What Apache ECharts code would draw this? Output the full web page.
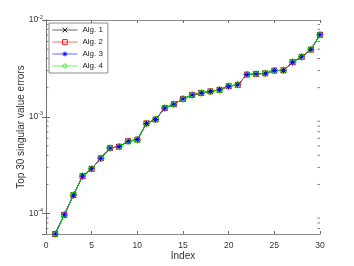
<!DOCTYPE html>
<html>
<head>
<meta charset="utf-8">
<script src="https://cdn.jsdelivr.net/npm/echarts@6/dist/echarts.min.js"></script>
<style>
  html, body { margin: 0; padding: 0; background: #fff; }
  #chart { width: 354px; height: 266px; }
</style>
</head>
<body>
<div id="chart"></div>
<script>
// x positions
var index = [1, 2, 3, 4, 5, 6, 7, 8, 9, 10, 11, 12, 13, 14, 15, 16, 17, 18, 19, 20,
  21, 22, 23, 24, 25, 26, 27, 28, 29, 30]
// the four algorithms give the same errors, the curves lie on top of each other
var errors = [6.15e-5, 9.7e-5, 1.55e-4, 2.44e-4, 2.90e-4, 3.73e-4, 4.75e-4, 4.91e-4, 5.60e-4, 5.80e-4,
  8.55e-4, 9.38e-4, 1.23e-3, 1.35e-3, 1.53e-3, 1.68e-3, 1.76e-3, 1.83e-3, 1.90e-3, 2.07e-3,
  2.14e-3, 2.73e-3, 2.77e-3, 2.81e-3, 3.00e-3, 3.02e-3, 3.67e-3, 4.16e-3, 4.94e-3, 7.03e-3]
var algNames = ['Alg. 1', 'Alg. 2', 'Alg. 3', 'Alg. 4']
var algColors = ['#000000', '#ff0000', '#0000ff', '#00ee00']
var algSymbols = [
  'path://M0,0L10,10M0,10L10,0',
  'path://M0,0L10,0L10,10L0,10Z',
  'path://M5,0L5,10M0,5L10,5M1.5,1.5L8.5,8.5M1.5,8.5L8.5,1.5',
  'path://M5,0L10,5L5,10L0,5Z'
]
var algSizes = [5, 5, 6, 7]
var xMin = 0
var xMax = 30
var yMin = 6.15e-5
var yMax = 1e-2
var minorTicks = [7e-5, 8e-5, 9e-5, 2e-4, 3e-4, 4e-4, 5e-4, 6e-4, 7e-4, 8e-4, 9e-4,
  2e-3, 3e-3, 4e-3, 5e-3, 6e-3, 7e-3, 8e-3, 9e-3]

var axisGray = '#6e6e6e'
var fontName = 'Liberation Sans'

function powLabel (v) {
  var l = Math.log10(v)
  var e = Math.round(l)
  if (Math.abs(l - e) > 1e-6) return ''
  return '10{sup|' + e + '}'
}

var series = algNames.map(function (name, i) {
  return {
    name: name,
    type: 'line',
    data: index.map(function (x, k) { return [x, errors[k]] }),
    symbol: algSymbols[i],
    symbolSize: algSizes[i],
    showSymbol: true,
    itemStyle: { color: 'transparent', borderColor: algColors[i], borderWidth: 1 },
    lineStyle: { color: algColors[i], width: 0.9 },
    emphasis: { disabled: true },
    animation: false
  }
})

// minor ticks of the log axis (2..9 in every decade), on both sides of the box
series.push({
  type: 'custom',
  name: 'minor',
  silent: true,
  clip: false,
  z: 1,
  data: minorTicks.map(function (v) { return [xMin, v] }),
  renderItem: function (params, api) {
    var v = api.value(1)
    var pl = api.coord([xMin, v])
    var pr = api.coord([xMax, v])
    return {
      type: 'group',
      children: [
        { type: 'line', shape: { x1: pl[0], y1: pl[1], x2: pl[0] + 2.5, y2: pl[1] }, style: { stroke: axisGray, lineWidth: 0.9 } },
        { type: 'line', shape: { x1: pr[0], y1: pr[1], x2: pr[0] - 2.5, y2: pr[1] }, style: { stroke: axisGray, lineWidth: 0.9 } }
      ]
    }
  }
})

var legendData = algNames.map(function (name, i) {
  return {
    name: name,
    itemStyle: { color: 'transparent', borderColor: algColors[i], borderWidth: 0.9 },
    lineStyle: { color: algColors[i], width: 0.8, opacity: 0.75 }
  }
})

var chart = echarts.init(document.getElementById('chart'))
var option = {
  animation: false,
  textStyle: { fontFamily: fontName },
  grid: { left: 46, right: 34, top: 20, bottom: 29 },
  legend: {
    data: legendData,
    orient: 'vertical',
    left: 49,
    top: 23,
    itemWidth: 25,
    itemHeight: 6,
    itemGap: 4,
    padding: [3, 5, 3, 3],
    borderColor: axisGray,
    borderWidth: 0.8,
    backgroundColor: '#fff',
    textStyle: { fontSize: 8, color: '#222', fontFamily: fontName }
  },
  xAxis: [
    {
      type: 'value',
      min: xMin,
      max: xMax,
      interval: 5,
      name: 'Index',
      nameLocation: 'middle',
      nameGap: 17,
      nameMoveOverlap: false,
      nameTextStyle: { fontSize: 10, color: '#333' },
      axisLine: { lineStyle: { color: axisGray, width: 0.8 } },
      axisTick: { inside: true, length: 3, lineStyle: { color: axisGray } },
      axisLabel: { fontSize: 8.5, color: '#333', margin: 7 },
      splitLine: { show: false }
    },
    {
      type: 'value',
      position: 'top',
      min: xMin,
      max: xMax,
      interval: 5,
      axisLine: { lineStyle: { color: axisGray, width: 0.8 } },
      axisTick: { inside: true, length: 3, lineStyle: { color: axisGray } },
      axisLabel: { show: false },
      splitLine: { show: false }
    }
  ],
  yAxis: [
    {
      type: 'log',
      logBase: 10,
      min: yMin,
      max: yMax,
      name: 'Top 30 singular value errors',
      nameLocation: 'middle',
      nameGap: 20,
      nameMoveOverlap: false,
      nameTextStyle: { fontSize: 10, color: '#333' },
      axisLine: { show: true, lineStyle: { color: axisGray, width: 0.8 } },
      axisTick: { inside: true, length: 4, lineStyle: { color: axisGray } },
      axisLabel: {
        fontSize: 8.5,
        color: '#333',
        margin: 3,
        showMinLabel: false,
        formatter: powLabel,
        rich: { sup: { fontSize: 5.5, color: '#333', verticalAlign: 'top', padding: [0, 0, 6, 0] } }
      },
      splitLine: { show: false }
    },
    {
      type: 'log',
      logBase: 10,
      min: yMin,
      max: yMax,
      position: 'right',
      axisLine: { show: true, lineStyle: { color: axisGray, width: 0.8 } },
      axisTick: { inside: true, length: 4, lineStyle: { color: axisGray } },
      axisLabel: { show: false },
      splitLine: { show: false }
    }
  ],
  series: series
}
chart.setOption(option)
</script>
</body>
</html>
